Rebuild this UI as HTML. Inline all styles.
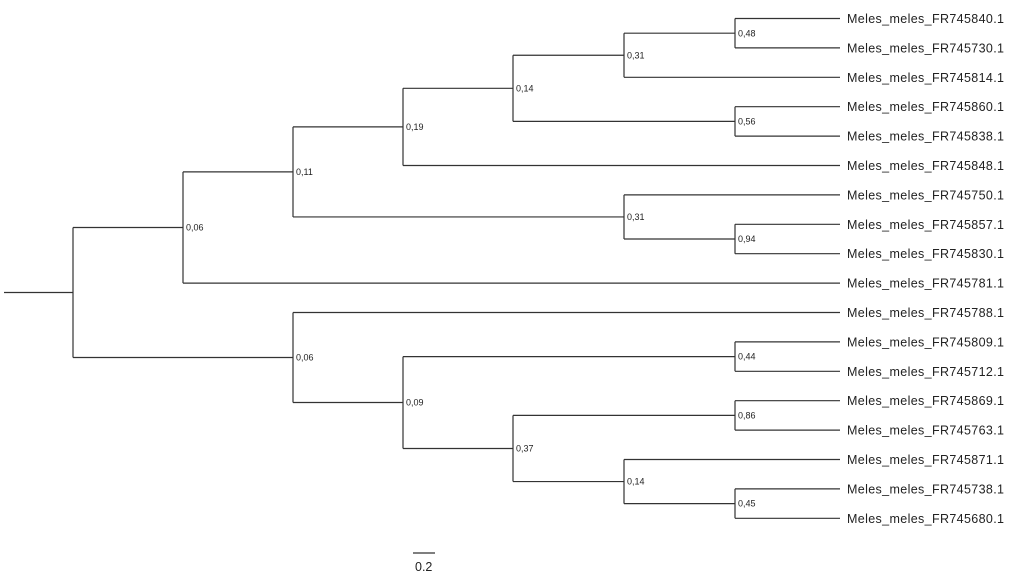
<!DOCTYPE html>
<html><head><meta charset="utf-8"><style>
html,body{margin:0;padding:0;background:#fff;}
svg{display:block;}
.l{font-family:"Liberation Sans",Arial,sans-serif;font-size:12.5px;fill:#222;}
.n{font-family:"Liberation Sans",Arial,sans-serif;font-size:9px;fill:#222;}
</style></head><body>
<svg width="1024" height="574" viewBox="0 0 1024 574" xmlns="http://www.w3.org/2000/svg">
<g stroke="#333" stroke-width="1.2" fill="none">
<!-- root -->
<path d="M4 292.5H73"/>
<!-- R -->
<path d="M73 227.5V357.5M73 227.5H183M73 357.5H293"/>
<!-- I -->
<path d="M183 171.9V283.1M183 171.9H293M183 283.1H840"/>
<!-- H -->
<path d="M293 126.9V216.95M293 126.9H403M293 216.95H624"/>
<!-- E -->
<path d="M403 88.3V165.5M403 88.3H513M403 165.5H840"/>
<!-- D -->
<path d="M513 55.25V121.4M513 55.25H624M513 121.4H735"/>
<!-- B -->
<path d="M624 33.2V77.3M624 33.2H735M624 77.3H840"/>
<!-- A -->
<path d="M735 18.5V47.9M735 18.5H840M735 47.9H840"/>
<!-- C -->
<path d="M735 106.7V136.1M735 106.7H840M735 136.1H840"/>
<!-- G -->
<path d="M624 194.9V239M624 194.9H840M624 239H735"/>
<!-- F -->
<path d="M735 224.3V253.7M735 224.3H840M735 253.7H840"/>
<!-- Q -->
<path d="M293 312.5V402.5M293 312.5H840M293 402.5H403"/>
<!-- P -->
<path d="M403 356.6V448.5M403 356.6H735M403 448.5H513"/>
<!-- J -->
<path d="M735 341.9V371.3M735 341.9H840M735 371.3H840"/>
<!-- O -->
<path d="M513 415.4V481.55M513 415.4H735M513 481.55H624"/>
<!-- K -->
<path d="M735 400.7V430.1M735 400.7H840M735 430.1H840"/>
<!-- N -->
<path d="M624 459.5V503.6M624 459.5H840M624 503.6H735"/>
<!-- M -->
<path d="M735 488.9V518.3M735 488.9H840M735 518.3H840"/>
<!-- scale -->
<path d="M413 553H435"/>
</g>
<g class="n">
<text x="738" y="36.5">0,48</text>
<text x="627" y="58.5">0,31</text>
<text x="738" y="124.5">0,56</text>
<text x="516" y="91.5">0,14</text>
<text x="406" y="130">0,19</text>
<text x="296" y="175">0,11</text>
<text x="186" y="230.5">0,06</text>
<text x="627" y="220">0,31</text>
<text x="738" y="242">0,94</text>
<text x="296" y="360.5">0,06</text>
<text x="406" y="405.5">0,09</text>
<text x="738" y="359.5">0,44</text>
<text x="738" y="418.5">0,86</text>
<text x="516" y="451.5">0,37</text>
<text x="627" y="484.5">0,14</text>
<text x="738" y="506.5">0,45</text>
</g>
<g class="l">
<text x="847" y="23" textLength="157">Meles_meles_FR745840.1</text>
<text x="847" y="52.4" textLength="157">Meles_meles_FR745730.1</text>
<text x="847" y="81.8" textLength="157">Meles_meles_FR745814.1</text>
<text x="847" y="111.2" textLength="157">Meles_meles_FR745860.1</text>
<text x="847" y="140.6" textLength="157">Meles_meles_FR745838.1</text>
<text x="847" y="170" textLength="157">Meles_meles_FR745848.1</text>
<text x="847" y="199.4" textLength="157">Meles_meles_FR745750.1</text>
<text x="847" y="228.8" textLength="157">Meles_meles_FR745857.1</text>
<text x="847" y="258.2" textLength="157">Meles_meles_FR745830.1</text>
<text x="847" y="287.6" textLength="157">Meles_meles_FR745781.1</text>
<text x="847" y="317" textLength="157">Meles_meles_FR745788.1</text>
<text x="847" y="346.4" textLength="157">Meles_meles_FR745809.1</text>
<text x="847" y="375.8" textLength="157">Meles_meles_FR745712.1</text>
<text x="847" y="405.2" textLength="157">Meles_meles_FR745869.1</text>
<text x="847" y="434.6" textLength="157">Meles_meles_FR745763.1</text>
<text x="847" y="464" textLength="157">Meles_meles_FR745871.1</text>
<text x="847" y="493.4" textLength="157">Meles_meles_FR745738.1</text>
<text x="847" y="522.8" textLength="157">Meles_meles_FR745680.1</text>
<text x="415" y="571">0.2</text>
</g>
</svg>
</body></html>
